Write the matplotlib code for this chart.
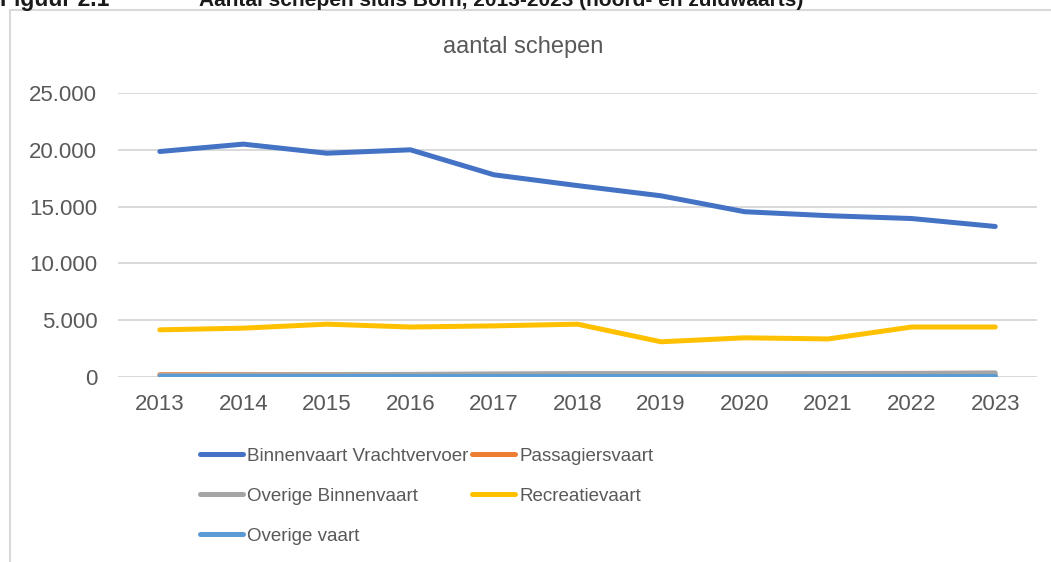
import matplotlib.pyplot as plt
from matplotlib.lines import Line2D

plt.rcParams['font.family'] = ['Liberation Sans', 'DejaVu Sans']

jaren = ['2013', '2014', '2015', '2016', '2017', '2018', '2019', '2020', '2021', '2022', '2023']
vrachtvervoer = [19850, 20500, 19700, 20000, 17800, 16850, 15950, 14550, 14200, 13950, 13250]
passagiers = [200, 200, 190, 180, 170, 160, 120, 110, 120, 140, 150]
overige_binnen = [140, 170, 200, 230, 270, 300, 300, 290, 300, 320, 360]
recreatie = [4150, 4300, 4650, 4400, 4500, 4650, 3100, 3450, 3350, 4400, 4400]
overige_vaart = [60, 60, 60, 60, 60, 60, 60, 60, 60, 60, 60]

tekst = '#595959'
fig = plt.figure(figsize=(10.51, 5.62), dpi=100)
ax = fig.add_axes([0.1123, 0.3292, 0.8744, 0.5053])

x = range(len(jaren))
lw = 3.6
l1, = ax.plot(x, vrachtvervoer, color='#4472C4', lw=lw, solid_capstyle='round', label='Binnenvaart Vrachtvervoer')
l2, = ax.plot(x, passagiers, color='#ED7D31', lw=lw, solid_capstyle='round', label='Passagiersvaart')
l3, = ax.plot(x, overige_binnen, color='#A5A5A5', lw=lw, solid_capstyle='round', label='Overige Binnenvaart')
l4, = ax.plot(x, recreatie, color='#FFC000', lw=lw, solid_capstyle='round', label='Recreatievaart')
l5, = ax.plot(x, overige_vaart, color='#5B9BD5', lw=lw, solid_capstyle='round', label='Overige vaart')

ax.set_xlim(-0.5, len(jaren) - 0.5)
ax.set_ylim(0, 25000)
ax.set_yticks(range(0, 25001, 5000))
ax.set_yticklabels(['0' if v == 0 else f'{v:,}'.replace(',', '.') for v in range(0, 25001, 5000)])
ax.set_xticks(list(x))
ax.set_xticklabels(jaren)
ax.tick_params(axis='both', length=0, labelsize=16, colors=tekst)
ax.tick_params(axis='y', pad=15)
ax.tick_params(axis='x', pad=12)
ax.grid(axis='y', color='#D9D9D9', lw=1.4)
ax.set_axisbelow(True)
for s in ax.spines.values():
    s.set_visible(False)

fig.text(0.4975, 0.916, 'aantal schepen', ha='center', va='center', fontsize=17, color=tekst)

leg = fig.legend([l1, l3, l5, l2, l4],
                 ['Binnenvaart Vrachtvervoer', 'Overige Binnenvaart', 'Overige vaart', 'Passagiersvaart', 'Recreatievaart'],
                 ncol=2, loc='upper left', bbox_to_anchor=(0.1905, 0.203), frameon=False,
                 fontsize=13.5, handlelength=2.29, handletextpad=0.21, columnspacing=0.2,
                 labelspacing=1.22, borderpad=0, borderaxespad=0)
for t in leg.get_texts():
    t.set_color(tekst)

# kader en bijschrift (bovenkant afgesneden)
fig.add_artist(Line2D([0.0095, 1.0], [0.982, 0.982], color='#D9D9D9', lw=1.5, transform=fig.transFigure))
fig.add_artist(Line2D([0.0095, 0.0095], [0.0, 0.982], color='#D9D9D9', lw=1.5, transform=fig.transFigure))
fig.text(0.0, 1 - 6 / 562, 'Figuur 2.1', fontsize=16.5, fontweight='bold', va='baseline', color='#1a1a1a')
fig.text(0.1893, 1 - 6 / 562, 'Aantal schepen sluis Born, 2013-2023 (noord- en zuidwaarts)',
         fontsize=15, fontweight='bold', va='baseline', color='#1a1a1a')

fig.savefig('out.png', dpi=100)
